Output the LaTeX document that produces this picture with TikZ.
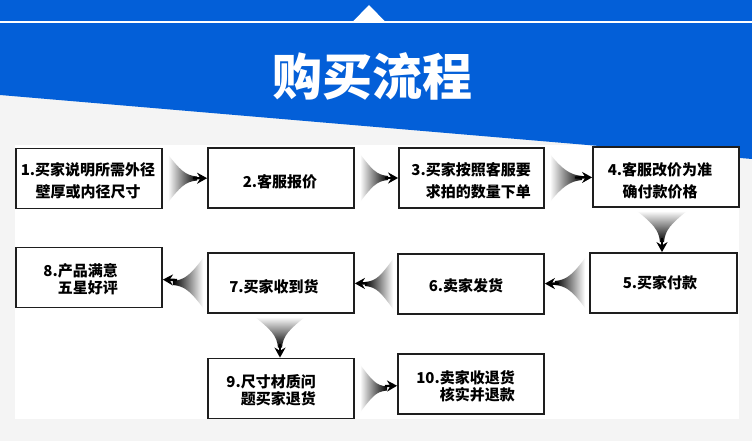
\documentclass[tikz,border=0pt]{standalone}
\usepackage{fontspec}
\newfontfamily\cjk{Noto Sans CJK SC}
\usetikzlibrary{arrows.meta,calc,shadings}
\definecolor{bandblue}{RGB}{3,95,216}
\definecolor{bggray}{RGB}{244,244,244}
\definecolor{boxline}{RGB}{30,30,30}
\tikzset{
  box/.style={draw=boxline, line width=1.8pt, fill=white, minimum width=146pt, minimum height=60pt, inner sep=0pt},
  lbl/.style={font=\cjk\bfseries\fontsize{15}{22}\selectfont, inner sep=0pt, align=center},
  lbltight/.style={font=\cjk\bfseries\fontsize{15}{17}\selectfont, inner sep=0pt, align=right},
  conn/.style={line width=2.4pt, black, -{Stealth[length=10pt,width=11pt]}, shorten <=30pt}
}
\newcommand\fanR[2]{%
  \shade[left color=white, right color=black] let \p1=(#1.east), \p2=(#2.west) in
    (\x1+5pt,\y1+24pt) .. controls (\x1+17pt,\y1+9pt) and (\x2-22pt,\y1+3pt) .. (\x2-10pt,\y1+2pt)
    -- (\x2-10pt,\y1-2pt) .. controls (\x2-22pt,\y1-3pt) and (\x1+17pt,\y1-9pt) .. (\x1+5pt,\y1-24pt) -- cycle;
  \draw[conn] (#1) -- (#2);}
\newcommand\fanL[2]{%
  \shade[left color=black, right color=white] let \p1=(#1.west), \p2=(#2.east) in
    (\x1-4pt,\y1+25pt) .. controls (\x1-16pt,\y1+9pt) and (\x2+22pt,\y1+3pt) .. (\x2+10pt,\y1+2pt)
    -- (\x2+10pt,\y1-2pt) .. controls (\x2+22pt,\y1-3pt) and (\x1-16pt,\y1-9pt) .. (\x1-4pt,\y1-25pt) -- cycle;
  \draw[conn] (#1) -- (#2);}
% #1 upper node, #2 lower node, #3 x of the arrow
\newcommand\fanD[3]{%
  \coordinate (#1#2top) at (#3,0 |- #1.south);
  \coordinate (#1#2bot) at (#3,0 |- #2.north);
  \shade[top color=white, bottom color=black] let \p1=(#1#2top), \p2=(#1#2bot) in
    (\x1-25pt,\y1-3pt) .. controls (\x1-9pt,\y1-16pt) and (\x1-3pt,\y2+22pt) .. (\x1-2pt,\y2+10pt)
    -- (\x1+2pt,\y2+10pt) .. controls (\x1+3pt,\y2+22pt) and (\x1+9pt,\y1-16pt) .. (\x1+25pt,\y1-3pt) -- cycle;
  \draw[conn] (#1#2top) -- (#1#2bot);}
\begin{document}
\begin{tikzpicture}[x=1pt,y=-1pt]
\useasboundingbox (0,0) rectangle (752,441);
% background
\fill[bggray] (0,0) rectangle (752,441);
\fill[white] (15,145) rectangle (739,419);
\fill[bandblue] (0,0) -- (752,0) -- (752,159) -- (0,95) -- cycle;
\draw[white, line width=1.6pt] (0,22) -- (752,22);
\fill[white] (352,22.5) -- (369,5) -- (386,22.5) -- cycle;
\node[font=\cjk\bfseries\fontsize{50}{50}\selectfont, text=white, inner sep=0pt] (title) at (372,76) {购买流程};
% boxes
\node[box] (b1) at (89,178.5) {};
\node[box] (b2) at (281,178) {};
\node[box, minimum width=145pt] (b3) at (471.5,178) {};
\node[box] (b4) at (666,177) {};
\node[box, minimum width=147pt] (b5) at (663.5,283) {};
\node[box] (b6) at (471,284) {};
\node[box] (b7) at (281,283) {};
\node[box] (b8) at (89,277.5) {};
\node[box] (b9) at (281,388.5) {};
\node[box] (b10) at (471,384) {};
% labels
\node[lbl] (t1) at (88,181) {1.买家说明所需外径\\壁厚或内径尺寸};
\node[lbl] (t2) at (280,182) {2.客服报价};
\node[lbl, align=right, anchor=east] (t3) at (531,181) {3.买家按照客服要\\求拍的数量下单};
\node[lbl] (t4) at (660,181) {4.客服改价为准\\确付款价格};
\node[lbl] (t5) at (660,283) {5.买家付款};
\node[lbl] (t6) at (466,286) {6.卖家发货};
\node[lbl] (t7) at (274,287) {7.买家收到货};
\node[lbltight, anchor=east] (t8) at (118,279.5) {8.产品满意\\五星好评};
\node[lbltight, anchor=east] (t9) at (316,390.5) {9.尺寸材质问\\题买家退货};
\node[lbltight, anchor=east] (t10) at (515,386.5) {10.卖家收退货\\核实并退款};
% connectors
\fanR{b1}{b2}
\fanR{b2}{b3}
\fanR{b3}{b4}
\fanD{b4}{b5}{662}
\fanL{b5}{b6}
\fanL{b6}{b7}
\fanL{b7}{b8}
\fanD{b7}{b9}{280}
\fanR{b9}{b10}
\end{tikzpicture}
\end{document}
